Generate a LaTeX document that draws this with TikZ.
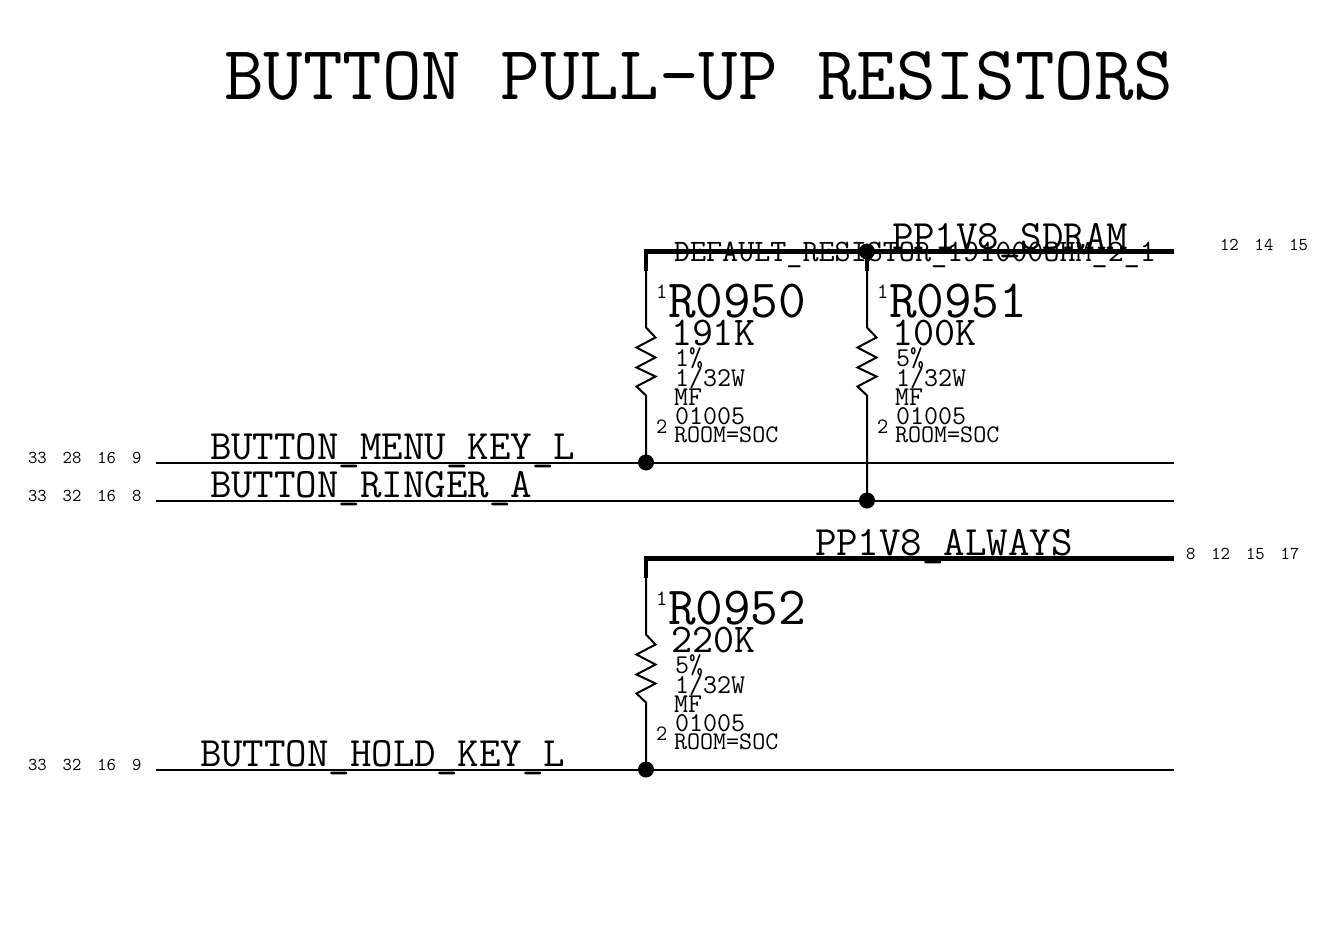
\documentclass[tikz,border=0pt]{standalone}

\newcommand{\sz}[1]{\ttfamily\fontsize{#1}{#1}\selectfont}
\def\gap{\hspace{12pt}}

\tikzset{
  wire/.style={line width=1.5pt},
  rail/.style={line width=3.4pt},
  dot/.style={circle,fill=black,inner sep=0pt,minimum size=12pt},
  txt/.style={anchor=base west,inner sep=0pt,outer sep=0pt},
  titletxt/.style={txt,font=\sz{57.6}},
  nettxt/.style={txt,font=\sz{31.3}},
  refdes/.style={txt,font=\sz{40.3}},
  valtxt/.style={txt,font=\sz{30.6}},
  smalltxt/.style={txt,font=\sz{20.4}},
  roomtxt/.style={txt,font=\sz{19}},
  pintxt/.style={txt,font=\sz{16.4}},
  reftxt/.style={txt,font=\sz{13.6}},
}

\begin{document}
\begin{tikzpicture}[x=0.75pt,y=-0.75pt]
\useasboundingbox (0,0) rectangle (1323,952);

% Title
\node[titletxt] (title) at (224,100) {BUTTON PULL-UP RESISTORS};

% Ends of the nets
\coordinate (menuL) at (156,462.5);
\coordinate (menuR) at (1174,462.5);
\coordinate (ringerL) at (156,500.5);
\coordinate (ringerR) at (1174,500.5);
\coordinate (holdL) at (156,769.5);
\coordinate (holdR) at (1174,769.5);
\coordinate (sdramL) at (646,251.5);
\coordinate (sdramR) at (1174,251.5);
\coordinate (alwaysL) at (646,558.5);
\coordinate (alwaysR) at (1174,558.5);

% Nets
\draw[wire] (menuL) -- (menuR);
\draw[wire] (ringerL) -- (ringerR);
\draw[wire] (holdL) -- (holdR);
\draw[rail] (sdramL) -- (sdramR);
\draw[rail] (alwaysL) -- (alwaysR);

% Net names
\node[nettxt] (menuname) at (210,459) {BUTTON\_MENU\_KEY\_L};
\node[nettxt] (ringername) at (210,497) {BUTTON\_RINGER\_A};
\node[nettxt] (holdname) at (200,766) {BUTTON\_HOLD\_KEY\_L};
\node[nettxt] (sdramname) at (892,249) {PP1V8\_SDRAM};
\node[nettxt] (alwaysname) at (815,555) {PP1V8\_ALWAYS};
\node[txt,font=\sz{23.4}] (default) at (674,262) {DEFAULT\_RESISTOR\_191000OHM\_2\_1};

% Page references
\node[reftxt] (menuref) at (28,463) {33\gap 28\gap 16\gap 9};
\node[reftxt] (ringerref) at (28,501) {33\gap 32\gap 16\gap 8};
\node[reftxt] (holdref) at (28,770) {33\gap 32\gap 16\gap 9};
\node[reftxt] (sdramref) at (1220,251) {12\gap 14\gap 15};
\node[reftxt] (alwaysref) at (1186,559) {8\gap 12\gap 15\gap 17};

% Resistors: name, x, rail, net below, value, tolerance
\foreach \name/\x/\top/\bot/\val/\tol in {
  0950/646/251.5/462.5/191K/1,
  0951/867/251.5/500.5/100K/5,
  0952/646/558.5/769.5/220K/5}
{
  \coordinate (top\name) at (\x,\top);
  \coordinate (stub\name) at (\x,\top+19);
  \coordinate (bot\name) at (\x,\bot);
  \draw[rail,shorten <=-1.7pt] (top\name) -- (stub\name);
  \draw[wire,line join=miter] (stub\name) -- (\x,\top+76) -- ++(9.5,10) -- ++(-19,10) -- ++(19,10)
    -- ++(-19,10) -- ++(19,9) -- ++(-19,10) -- ++(9.5,9) -- (bot\name);

  \node[pintxt] (pinA\name) at (\x+10,\top+47) {1};
  \node[pintxt] (pinB\name) at (\x+10,\top+182) {2};
  \node[refdes] (R\name) at (\x+22,\top+66) {R\name};
  \node[valtxt] (val\name) at (\x+25,\top+94) {\val};
  \node[smalltxt] (tol\name) at (\x+29,\top+115) {\tol\%};
  \node[smalltxt] (watt\name) at (\x+29,\top+135) {1/32W};
  \node[smalltxt] (mf\name) at (\x+28,\top+154) {MF};
  \node[smalltxt] (size\name) at (\x+29,\top+173) {01005};
  \node[roomtxt] (room\name) at (\x+28,\top+191) {ROOM=SOC};
}

% Junctions
\node[dot] (dotA) at (top0951) {};
\node[dot] (dotB) at (bot0950) {};
\node[dot] (dotC) at (bot0951) {};
\node[dot] (dotD) at (bot0952) {};

\end{tikzpicture}
\end{document}
